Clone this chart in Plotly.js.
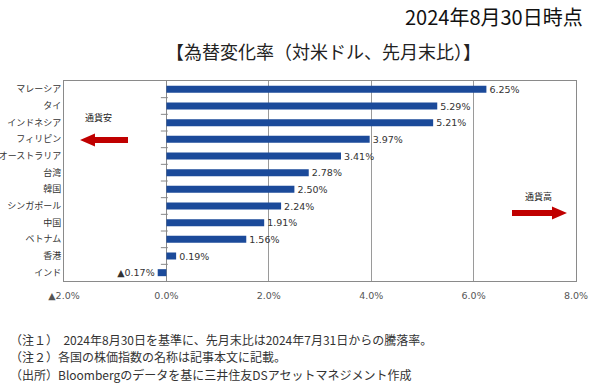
<!DOCTYPE html>
<html>
<head>
<meta charset="utf-8">
<script src="https://cdn.plot.ly/plotly-3.0.1.min.js"></script>
<style>html,body{margin:0;padding:0;background:#fff;}#chart{width:600px;height:389px;}</style>
</head>
<body>
<div id="chart"></div>
<script>
const categories = ["マレーシア","タイ","インドネシア","フィリピン","オーストラリア","台湾","韓国","シンガポール","中国","ベトナム","香港","インド"];
const values = [6.25, 5.29, 5.21, 3.97, 3.41, 2.78, 2.50, 2.24, 1.91, 1.56, 0.19, -0.17];
const xTickVals = [-2, 0, 2, 4, 6, 8];
const xTickText = ["▲2.0%", "0.0%", "2.0%", "4.0%", "6.0%", "8.0%"];
const notes = [
  "（注１）  2024年8月30日を基準に、先月末比は2024年7月31日からの騰落率。",
  "（注２）各国の株価指数の名称は記事本文に記載。",
  "（出所）Bloombergのデータを基に三井住友DSアセットマネジメント作成"
];

const JP = '"Noto Sans CJK JP", "Noto Sans", sans-serif';
const NUM = '"DejaVu Sans", Verdana, sans-serif';

const L = 64, R = 576, T = 81, B = 281;
function px(x){ return (x - L) / (R - L); }
function py(y){ return (B - y) / (B - T); }
function path(pts){ return 'M' + pts.map(p => px(p[0]).toFixed(4) + ',' + py(p[1]).toFixed(4)).join(' L') + ' Z'; }

const labels = values.map(v => v < 0 ? '▲' + Math.abs(v).toFixed(2) + '%' : v.toFixed(2) + '%');
const pos = categories.map((c, i) => i);

const bars = {
  type: 'bar', orientation: 'h',
  x: values, y: pos,
  width: 0.42,
  marker: {color: '#1b4a9a'},
  text: labels, textposition: 'outside', constraintext: 'none',
  textfont: {family: NUM, size: 9.5, color: '#333'},
  cliponaxis: false,
  hoverinfo: 'skip'
};
const tickMarks = {
  type: 'scatter', mode: 'markers',
  x: pos.slice(0, -1).map(() => -0.04),
  y: pos.slice(0, -1).map(i => i + 0.5),
  marker: {symbol: 'line-ew-open', size: 5, color: '#888', line: {color: '#888', width: 1}},
  hoverinfo: 'skip'
};

const noteAnns = notes.map((t, i) => ({
  text: t, xref: 'paper', yref: 'paper', x: px(8), y: py(339 + i * 17.5),
  xanchor: 'left', yanchor: 'middle', align: 'left', showarrow: false,
  font: {family: JP, size: 12, color: '#333'}
}));

const layout = {
  width: 600, height: 389,
  margin: {l: L, r: 600 - R, t: T, b: 389 - B},
  paper_bgcolor: '#fff', plot_bgcolor: '#fff',
  showlegend: false,
  xaxis: {
    range: [-2, 8], tickvals: xTickVals, ticktext: xTickText,
    showgrid: true, gridcolor: '#9a9a9a', gridwidth: 1,
    zeroline: true, zerolinecolor: '#8a8a8a', zerolinewidth: 1,
    showline: true, linecolor: '#8a8a8a', mirror: true,
    ticks: '', ticklabelstandoff: 6, tickfont: {family: NUM, size: 9.5, color: '#555'},
    fixedrange: true
  },
  yaxis: {
    range: [11.5, -0.5], tickvals: pos, ticktext: categories,
    showgrid: false, zeroline: false,
    showline: true, linecolor: '#8a8a8a', mirror: true,
    ticks: '', tickfont: {family: JP, size: 9, color: '#333'},
    fixedrange: true
  },
  shapes: [
    {type: 'path', xref: 'paper', yref: 'paper', path: path([[80,140],[95,133.5],[95,137],[128,137],[128,143],[95,143],[95,146.5]]), fillcolor: '#c00000', line: {width: 0}},
    {type: 'path', xref: 'paper', yref: 'paper', path: path([[567,213],[552,206.5],[552,210],[512,210],[512,216],[552,216],[552,219.5]]), fillcolor: '#c00000', line: {width: 0}}
  ],
  annotations: [
    {text: '2024年8月30日時点', xref: 'paper', yref: 'paper', x: px(585), y: py(17), xanchor: 'right', yanchor: 'middle', showarrow: false, font: {family: JP, size: 20, color: '#111'}},
    {text: '【為替変化率（対米ドル、先月末比）】', xref: 'paper', yref: 'paper', x: px(323), y: py(51), xanchor: 'center', yanchor: 'middle', showarrow: false, font: {family: JP, size: 18, color: '#222'}},
    {text: '通貨安', xref: 'paper', yref: 'paper', x: px(98), y: py(117), xanchor: 'center', yanchor: 'middle', showarrow: false, font: {family: JP, size: 9, color: '#222'}},
    {text: '通貨高', xref: 'paper', yref: 'paper', x: px(538), y: py(196), xanchor: 'center', yanchor: 'middle', showarrow: false, font: {family: JP, size: 9, color: '#222'}}
  ].concat(noteAnns)
};

Plotly.newPlot('chart', [bars, tickMarks], layout, {displayModeBar: false, staticPlot: true});
</script>
</body>
</html>
